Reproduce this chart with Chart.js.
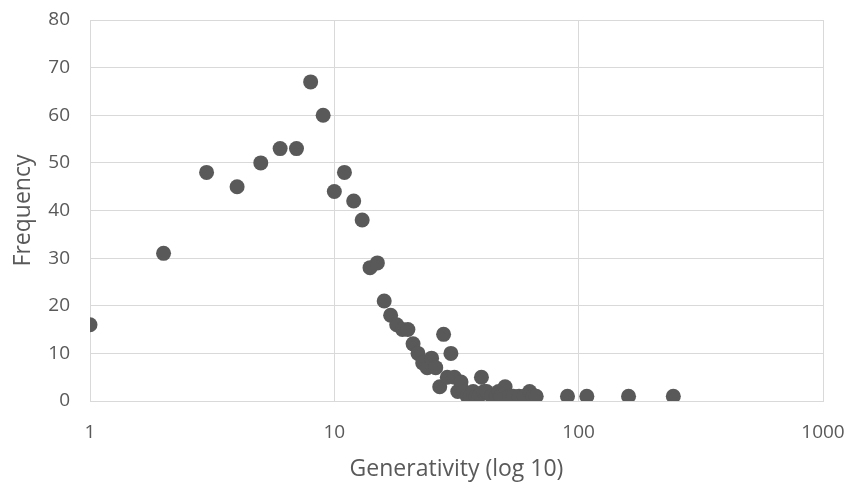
<!DOCTYPE html>
<html>
<head>
<meta charset="utf-8">
<script src="https://cdn.jsdelivr.net/npm/chart.js@4"></script>
<style>
  body { margin: 0; background: #fff; }
  #wrap { width: 856px; height: 492px; }
</style>
</head>
<body>
<div id="wrap"><canvas id="myChart"></canvas></div>
<script>
// generativity values (x) and how often each occurs (y)
const generativity = [1, 2, 3, 4, 5, 6, 7, 8, 9, 10, 11, 12, 13, 14, 15, 16, 17, 18, 19, 20,
    21, 22, 23, 24, 25, 26, 27, 28, 29, 30, 31, 32, 33, 34, 35, 36, 37, 38, 39, 40,
    41, 42, 44, 46, 47, 48, 50, 52, 54, 57, 60, 63, 65, 67, 90, 108, 160, 244];
const frequency = [16, 31, 48, 45, 50, 53, 53, 67, 60, 44, 48, 42, 38, 28, 29, 21, 18, 16, 15, 15,
    12, 10, 8, 7, 9, 7, 3, 14, 5, 10, 5, 2, 4, 2, 1, 1, 2, 1, 1, 5,
    2, 2, 1, 1, 2, 1, 3, 1, 1, 1, 1, 2, 1, 1, 1, 1, 1, 1];
const xTicks = [1, 10, 100, 1000];
const yTicks = [0, 10, 20, 30, 40, 50, 60, 70, 80];

let plot = () => {

    const ctx = document.getElementById('myChart');
    const gray = '#595959';
    const grid = '#d9d9d9';
    const font = "'Open Sans', 'Liberation Sans', sans-serif";

    const points = generativity.map((g, i) => ({ x: g, y: frequency[i] }));

    const config = {
        type: 'scatter',
        data: {
            datasets: [{
                data: points,
                backgroundColor: gray,
                borderColor: gray,
                borderWidth: 0,
                pointRadius: 7.5,
                pointHoverRadius: 7.5
            }]
        },
        options: {
            responsive: false,
            animation: false,
            layout: { padding: { top: 20, right: 33, bottom: 0, left: 0 } },
            plugins: { legend: { display: false }, tooltip: { enabled: false } },
            scales: {
                x: {
                    type: 'logarithmic',
                    min: 1,
                    max: 1000,
                    afterBuildTicks: (scale) => {
                        scale.ticks = xTicks.map(v => ({ value: v }));
                    },
                    // fixed box so the plot area sits where the original one does
                    afterFit: (scale) => {
                        scale.height = 91;
                        scale.paddingLeft = 0;
                        scale.paddingRight = 0;
                    },
                    ticks: {
                        color: gray,
                        font: { family: font, size: 19 },
                        padding: 20,
                        maxRotation: 0,
                        callback: (v) => String(v)
                    },
                    grid: { color: grid, lineWidth: 1, drawTicks: false },
                    border: { color: grid },
                    title: {
                        display: true,
                        text: 'Generativity (log 10)',
                        color: gray,
                        font: { family: font, size: 23 },
                        padding: { top: 4, bottom: 9 }
                    }
                },
                y: {
                    min: 0,
                    max: 80,
                    afterBuildTicks: (scale) => {
                        scale.ticks = yTicks.map(v => ({ value: v }));
                    },
                    afterFit: (scale) => {
                        scale.width = 90;
                        scale.paddingTop = 0;
                        scale.paddingBottom = 0;
                    },
                    ticks: {
                        color: gray,
                        font: { family: font, size: 19 },
                        padding: 20
                    },
                    grid: { color: grid, lineWidth: 1, drawTicks: false },
                    border: { color: grid },
                    title: {
                        display: true,
                        text: 'Frequency',
                        color: gray,
                        font: { family: font, size: 23 },
                        padding: { top: 10, bottom: 4 }
                    }
                }
            }
        }
    };

    const chart = new Chart(ctx, config);
}

document.getElementById('myChart').width = 856;
document.getElementById('myChart').height = 492;
plot();
</script>
</body>
</html>
